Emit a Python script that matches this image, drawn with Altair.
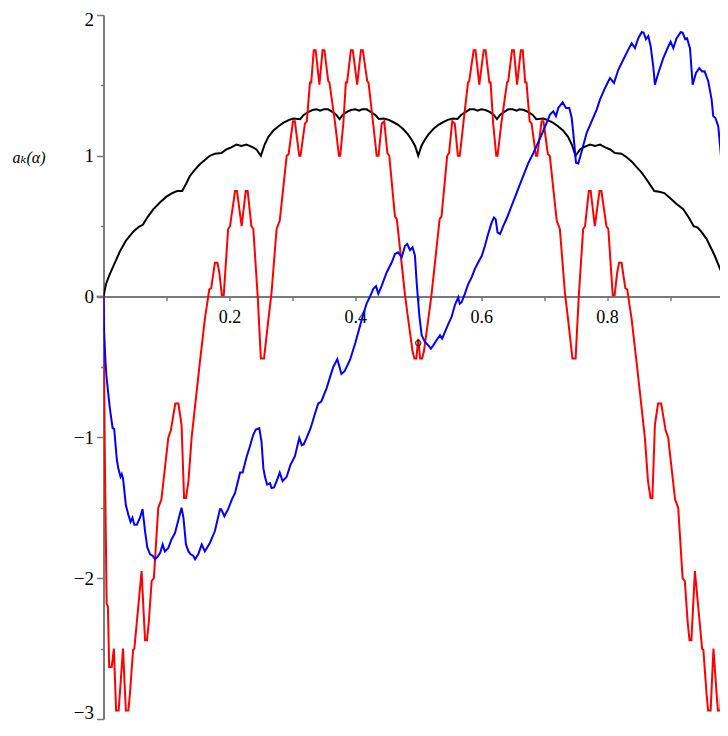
import altair as alt
import pandas as pd

# ---------------- data ----------------
black_x = [0.000, 0.004, 0.010, 0.018, 0.026, 0.036, 0.047, 0.056, 0.0625, 0.070, 0.079, 0.090, 0.100, 0.109, 0.117, 0.125,
           0.131, 0.137, 0.145, 0.153, 0.161, 0.169, 0.177, 0.1875, 0.195, 0.203, 0.211, 0.219, 0.227, 0.235, 0.243, 0.250,
           0.256, 0.262, 0.270, 0.278, 0.286, 0.295, 0.3015, 0.3125, 0.318, 0.325, 0.332, 0.339, 0.344, 0.350, 0.357, 0.364,
           0.370, 0.375, 0.380, 0.386, 0.393, 0.400, 0.406, 0.411, 0.418, 0.425, 0.432, 0.4375, 0.445, 0.453, 0.460, 0.468,
           0.476, 0.484, 0.490, 0.495, 0.500,
           0.505, 0.510, 0.516, 0.524, 0.532, 0.540, 0.547, 0.555, 0.5625, 0.568, 0.575, 0.582, 0.589, 0.594, 0.600, 0.607,
           0.614, 0.620, 0.625, 0.630, 0.636, 0.643, 0.650, 0.656, 0.661, 0.668, 0.675, 0.682, 0.6875, 0.6985, 0.705, 0.714,
           0.722, 0.730, 0.738, 0.744, 0.750, 0.757, 0.765, 0.773, 0.781, 0.789, 0.797, 0.805, 0.8125, 0.823, 0.831, 0.839,
           0.847, 0.855, 0.863, 0.869, 0.875, 0.883, 0.891, 0.900, 0.910, 0.921, 0.930, 0.9375, 0.944, 0.950, 0.958, 0.971,
           0.982, 0.992, 1.000]
black_y = [0.00, 0.09, 0.16, 0.24, 0.32, 0.40, 0.46, 0.495, 0.51, 0.565, 0.62, 0.67, 0.71, 0.735, 0.75, 0.75,
           0.80, 0.855, 0.90, 0.94, 0.97, 1.00, 1.015, 1.02, 1.045, 1.06, 1.08, 1.07, 1.08, 1.065, 1.045, 1.00,
           1.08, 1.135, 1.18, 1.21, 1.235, 1.255, 1.265, 1.26, 1.29, 1.31, 1.325, 1.33, 1.32, 1.33, 1.33, 1.31,
           1.29, 1.26, 1.29, 1.31, 1.325, 1.33, 1.32, 1.33, 1.33, 1.31, 1.29, 1.262, 1.265, 1.255, 1.24, 1.22,
           1.19, 1.15, 1.11, 1.07, 1.00,
           1.07, 1.11, 1.15, 1.19, 1.22, 1.24, 1.255, 1.265, 1.262, 1.29, 1.31, 1.33, 1.33, 1.32, 1.33, 1.325,
           1.31, 1.29, 1.26, 1.29, 1.31, 1.33, 1.33, 1.32, 1.33, 1.325, 1.31, 1.29, 1.26, 1.265, 1.255, 1.235,
           1.21, 1.18, 1.135, 1.08, 1.00, 1.045, 1.065, 1.08, 1.07, 1.08, 1.06, 1.045, 1.02, 1.015, 0.99, 0.96,
           0.92, 0.88, 0.83, 0.79, 0.75, 0.745, 0.735, 0.70, 0.66, 0.62, 0.56, 0.50, 0.49, 0.46, 0.41, 0.29,
           0.17, 0.08, 0.00]

red_x = [0.000, 0.002, 0.005, 0.007, 0.009, 0.013, 0.0165, 0.020, 0.024, 0.026, 0.031, 0.0355, 0.0395, 0.042, 0.047,
         0.049, 0.0605, 0.066, 0.069, 0.072, 0.0765, 0.080, 0.087, 0.092, 0.103, 0.107, 0.114, 0.119, 0.124, 0.128,
         0.131, 0.135, 0.140, 0.153, 0.161, 0.168, 0.171, 0.177, 0.181, 0.184, 0.188, 0.191, 0.198, 0.201, 0.209,
         0.212, 0.2195, 0.226, 0.229, 0.235, 0.238, 0.245, 0.250, 0.255, 0.262, 0.267, 0.275, 0.280, 0.291, 0.294,
         0.301, 0.304, 0.311, 0.313, 0.320, 0.323, 0.328, 0.330, 0.334, 0.337, 0.343, 0.348, 0.351, 0.357, 0.359,
         0.368, 0.374, 0.376, 0.381, 0.385, 0.387, 0.393, 0.396, 0.403, 0.409, 0.412, 0.419, 0.421, 0.428, 0.434,
         0.437, 0.442, 0.446, 0.451, 0.454, 0.463, 0.466, 0.479, 0.484, 0.491, 0.494, 0.497, 0.500,
         0.503, 0.506, 0.509, 0.516, 0.521, 0.534, 0.537, 0.546, 0.549, 0.554, 0.558, 0.563, 0.566, 0.572, 0.579,
         0.581, 0.588, 0.591, 0.597, 0.604, 0.607, 0.613, 0.615, 0.619, 0.624, 0.626, 0.632, 0.641, 0.643, 0.649,
         0.652, 0.657, 0.663, 0.666, 0.670, 0.672, 0.677, 0.680, 0.687, 0.689, 0.696, 0.699, 0.706, 0.709, 0.720,
         0.725, 0.733, 0.738, 0.745, 0.750, 0.755, 0.762, 0.765, 0.771, 0.774, 0.7805, 0.788, 0.791, 0.799, 0.802,
         0.809, 0.812, 0.816, 0.819, 0.823, 0.829, 0.832, 0.839, 0.847, 0.860, 0.865, 0.869, 0.872, 0.876, 0.881,
         0.886, 0.893, 0.897, 0.908, 0.913, 0.920, 0.9235, 0.928, 0.931, 0.934, 0.9395, 0.951, 0.953, 0.958, 0.9605,
         0.9645, 0.969, 0.974, 0.976, 0.980, 0.9835, 0.987, 0.991, 0.993, 0.995, 0.998, 1.000]
red_y = [0.00, -1.10, -2.18, -2.20, -2.63, -2.63, -2.50, -2.94, -2.94, -2.82, -2.50, -2.94, -2.94, -2.82, -2.51,
         -2.50, -1.95, -2.44, -2.44, -2.31, -2.02, -2.00, -1.50, -1.44, -1.00, -0.95, -0.76, -0.76, -0.91, -1.43,
         -1.43, -1.31, -1.00, -0.47, -0.16, 0.05, 0.06, 0.24, 0.24, 0.17, 0.01, 0.01, 0.48, 0.50, 0.75,
         0.75, 0.50, 0.75, 0.75, 0.50, 0.48, 0.00, -0.44, -0.44, -0.16, 0.03, 0.48, 0.54, 1.00, 1.01,
         1.245, 1.245, 1.00, 1.00, 1.23, 1.245, 1.52, 1.52, 1.75, 1.75, 1.505, 1.75, 1.75, 1.53, 1.52,
         1.23, 1.00, 1.00, 1.23, 1.52, 1.52, 1.75, 1.75, 1.505, 1.75, 1.75, 1.53, 1.52, 1.245, 1.00,
         1.00, 1.23, 1.245, 1.02, 1.00, 0.57, 0.55, 0.01, -0.16, -0.39, -0.44, -0.44, -0.30,
         -0.44, -0.44, -0.39, -0.16, 0.01, 0.55, 0.57, 1.00, 1.02, 1.245, 1.23, 1.00, 1.00, 1.245, 1.52,
         1.53, 1.75, 1.75, 1.505, 1.75, 1.75, 1.52, 1.52, 1.23, 1.00, 1.00, 1.23, 1.52, 1.53, 1.75,
         1.75, 1.505, 1.75, 1.75, 1.52, 1.52, 1.245, 1.23, 1.00, 1.00, 1.245, 1.245, 1.01, 1.00, 0.54,
         0.48, 0.03, -0.16, -0.44, -0.44, 0.00, 0.48, 0.50, 0.75, 0.75, 0.50, 0.75, 0.75, 0.50, 0.48,
         0.01, 0.01, 0.17, 0.24, 0.24, 0.06, 0.05, -0.16, -0.47, -1.00, -1.31, -1.43, -1.43, -0.91, -0.76,
         -0.76, -0.95, -1.00, -1.44, -1.50, -2.00, -2.02, -2.31, -2.44, -2.44, -1.95, -2.50, -2.51, -2.82, -2.94,
         -2.94, -2.50, -2.82, -2.94, -2.94, -2.50, -2.63, -2.63, -2.20, -2.18, -1.10, 0.00]

blue_x = [0.000, 0.001, 0.003, 0.005, 0.010, 0.0145, 0.017, 0.021, 0.0235, 0.027, 0.029, 0.031, 0.0355, 0.0395, 0.043,
          0.046, 0.049, 0.053, 0.058, 0.062, 0.066, 0.0695, 0.074, 0.078, 0.082, 0.0855, 0.090, 0.094, 0.0975, 0.103,
          0.108, 0.1135, 0.119, 0.124, 0.127, 0.131, 0.135, 0.1385, 0.1425, 0.1455, 0.1505, 0.156, 0.161, 0.169, 0.177,
          0.185, 0.187, 0.192, 0.198, 0.204, 0.209, 0.217, 0.221, 0.2275, 0.2325, 0.238, 0.242, 0.2475, 0.251, 0.254,
          0.2565, 0.260, 0.2645, 0.267, 0.271, 0.275, 0.280, 0.2845, 0.291, 0.297, 0.304, 0.311, 0.315, 0.318, 0.3225,
          0.329, 0.336, 0.341, 0.346, 0.3545, 0.360, 0.365, 0.3714, 0.378, 0.383, 0.3916, 0.400, 0.408, 0.413, 0.418,
          0.4234, 0.4286, 0.433, 0.4366, 0.442, 0.450, 0.458, 0.463, 0.468, 0.4737, 0.479, 0.4826, 0.487, 0.491, 0.4948,
          0.4975, 0.5017, 0.5055, 0.5107, 0.516, 0.520, 0.524, 0.529, 0.5346, 0.538, 0.5425, 0.548, 0.553, 0.558, 0.5636,
          0.566, 0.569, 0.574, 0.5795, 0.585, 0.590, 0.5954, 0.601, 0.606, 0.611, 0.6167, 0.6203, 0.623, 0.626, 0.630,
          0.635, 0.641, 0.648, 0.655, 0.660, 0.667, 0.675, 0.683, 0.690, 0.697, 0.704, 0.7093, 0.7145, 0.7188, 0.7225,
          0.7294, 0.7347, 0.740, 0.7438, 0.7463, 0.7506, 0.7543, 0.7597, 0.7676, 0.7755, 0.7835, 0.7887, 0.7966, 0.8046,
          0.811, 0.8178, 0.8257, 0.8321, 0.839, 0.8443, 0.8496, 0.855, 0.858, 0.8618, 0.8655, 0.8693, 0.8734, 0.876,
          0.8814, 0.8893, 0.8972, 0.901, 0.9052, 0.9105, 0.917, 0.920, 0.9242, 0.927, 0.9317, 0.936, 0.9412, 0.9465,
          0.951, 0.955, 0.9608, 0.9661, 0.9687, 0.972, 0.9766, 0.982, 0.9857, 0.990, 0.992, 0.996, 1.000]
blue_y = [0.00, -0.25, -0.45, -0.58, -0.79, -0.935, -0.94, -1.15, -1.22, -1.28, -1.26, -1.29, -1.48, -1.55, -1.60,
          -1.57, -1.62, -1.62, -1.57, -1.51, -1.665, -1.78, -1.83, -1.84, -1.865, -1.85, -1.82, -1.76, -1.81, -1.785,
          -1.725, -1.68, -1.585, -1.50, -1.57, -1.76, -1.81, -1.83, -1.84, -1.865, -1.83, -1.76, -1.81, -1.75, -1.665,
          -1.51, -1.51, -1.56, -1.51, -1.44, -1.395, -1.25, -1.25, -1.135, -1.065, -0.98, -0.945, -0.935, -1.03, -1.22,
          -1.28, -1.335, -1.325, -1.36, -1.355, -1.31, -1.25, -1.31, -1.28, -1.195, -1.135, -1.005, -1.055, -1.05, -1.005,
          -0.935, -0.83, -0.76, -0.745, -0.65, -0.57, -0.50, -0.445, -0.55, -0.53, -0.45, -0.33, -0.20, -0.12, -0.05,
          0.00, 0.055, 0.074, 0.02, 0.078, 0.173, 0.244, 0.303, 0.315, 0.279, 0.361, 0.373, 0.33, 0.35, 0.29,
          0.10, -0.134, -0.275, -0.322, -0.346, -0.369, -0.346, -0.31, -0.275, -0.298, -0.251, -0.192, -0.145, -0.063, -0.004,
          -0.051, -0.04, 0.02, 0.09, 0.138, 0.197, 0.244, 0.29, 0.361, 0.444, 0.527, 0.562, 0.55, 0.456, 0.444,
          0.50, 0.56, 0.64, 0.72, 0.78, 0.86, 0.95, 1.02, 1.09, 1.16, 1.234, 1.293, 1.316, 1.281, 1.34,
          1.38, 1.34, 1.34, 1.27, 1.163, 0.951, 0.946, 1.033, 1.163, 1.245, 1.328, 1.399, 1.48, 1.552,
          1.517, 1.611, 1.682, 1.74, 1.80, 1.765, 1.835, 1.878, 1.875, 1.828, 1.85, 1.776, 1.634, 1.505,
          1.588, 1.694, 1.776, 1.811, 1.765, 1.835, 1.878, 1.875, 1.828, 1.835, 1.765, 1.505, 1.588, 1.623,
          1.599, 1.60, 1.528, 1.399, 1.281, 1.27, 1.21, 0.951, 0.927, 0.739, 0.574, 0.30, 0.00]

marker_x = [0.5]
marker_y = [-0.33]

# short piece of the horizontal axis that pokes out left of the vertical axis
axis_stub_x = [-0.011]
axis_stub_x2 = [0.0]
axis_stub_y = [0.0]

series_names = ["black", "red", "blue"]
series_colors = ["#000000", "#ff0000", "#0000ff"]
x_tick_values = [0.1, 0.2, 0.3, 0.4, 0.5, 0.6, 0.7, 0.8, 0.9]
y_tick_values = [-3, -2.5, -2, -1.5, -1, -0.5, 0, 0.5, 1, 1.5, 2]
y_title = "aₖ(α)"

# ---------------- build ----------------
def frame(xs, ys, name):
    return pd.DataFrame({"x": xs, "y": ys, "s": name, "i": list(range(len(xs)))})

lines_df = pd.concat([frame(black_x, black_y, "black"),
                      frame(red_x, red_y, "red"),
                      frame(blue_x, blue_y, "blue")], ignore_index=True)
marker_df = pd.DataFrame({"x": marker_x, "y": marker_y})
stub_df = pd.DataFrame({"x": axis_stub_x, "x2": axis_stub_x2, "y": axis_stub_y})

# SVG kept at 712 x 716 px so that page + margins stays within the 728 x 736 window
W, H = 616.5, 704
Y_ZERO_PIX = H * 2 / 5  # y = 0 sits 2/5 of the way down (domain -3..2)

xscale = alt.Scale(domain=[0, 0.9794], nice=False, zero=False)
yscale = alt.Scale(domain=[-3, 2], nice=False, zero=False)

SERIF = "'Liberation Serif', 'Times New Roman', 'DejaVu Serif', serif"
AXIS_GREY = "#7a7a7a"
x_axis = alt.Axis(
    values=x_tick_values,
    labelExpr="(round(datum.value*10) % 2 == 0) ? format(datum.value, '.1f') : ''",
    offset=-(H - Y_ZERO_PIX),
    title=None, grid=False,
    domainColor=AXIS_GREY, domainWidth=2,
    tickColor=AXIS_GREY, tickWidth=1.5, tickSize=4,
    labelFont=SERIF, labelFontSize=18, labelColor="#000000",
    labelPadding=8, labelFlush=False, labelOverlap=False,
)
y_axis = alt.Axis(
    values=y_tick_values,
    labelExpr="(datum.value % 1 == 0) ? format(datum.value, 'd') : ''",
    title=y_title, titleAngle=0, titleX=-75, titleY=142,
    titleFont=SERIF, titleFontSize=16, titleFontWeight="normal",
    titleFontStyle="italic", titleAlign="center", titleBaseline="middle", titleColor="#000000",
    grid=False,
    domainColor=AXIS_GREY, domainWidth=2,
    tickColor=AXIS_GREY, tickWidth=1.5,
    tickSize={"condition": {"test": "datum.value % 1 == 0", "value": 7}, "value": 3},
    labelOffset={"condition": [{"test": "datum.value == 2", "value": 4.5},
                               {"test": "datum.value == -3", "value": -6.5}], "value": 0},
    labelFont=SERIF, labelFontSize=19, labelColor="#000000",
    labelPadding=3, labelFlush=False, labelOverlap=False,
)

enc_x = alt.X("x:Q", scale=xscale, axis=x_axis)
enc_y = alt.Y("y:Q", scale=yscale, axis=y_axis)

stub = alt.Chart(stub_df).mark_rule(color=AXIS_GREY, strokeWidth=2).encode(
    x=enc_x, x2="x2:Q", y=enc_y,
)

lines = alt.Chart(lines_df).mark_line(strokeWidth=2, clip=True).encode(
    x=enc_x,
    y=enc_y,
    color=alt.Color("s:N", scale=alt.Scale(domain=series_names, range=series_colors), legend=None),
    detail="s:N",
    order="i:Q",
)

marker = alt.Chart(marker_df).mark_point(shape="circle", filled=False, color="#000000",
                                         size=28, strokeWidth=1.3).encode(
    x=enc_x,
    y=enc_y,
)

chart = alt.layer(stub, lines, marker).properties(
    width=W, height=H,
    autosize=alt.AutoSizeParams(type="none"),
    padding={"left": 95.5, "top": 7, "right": 0, "bottom": 5},
    background="white",
).configure_view(stroke=None)

chart.save("out.html", embed_options={"renderer": "svg", "actions": False})
